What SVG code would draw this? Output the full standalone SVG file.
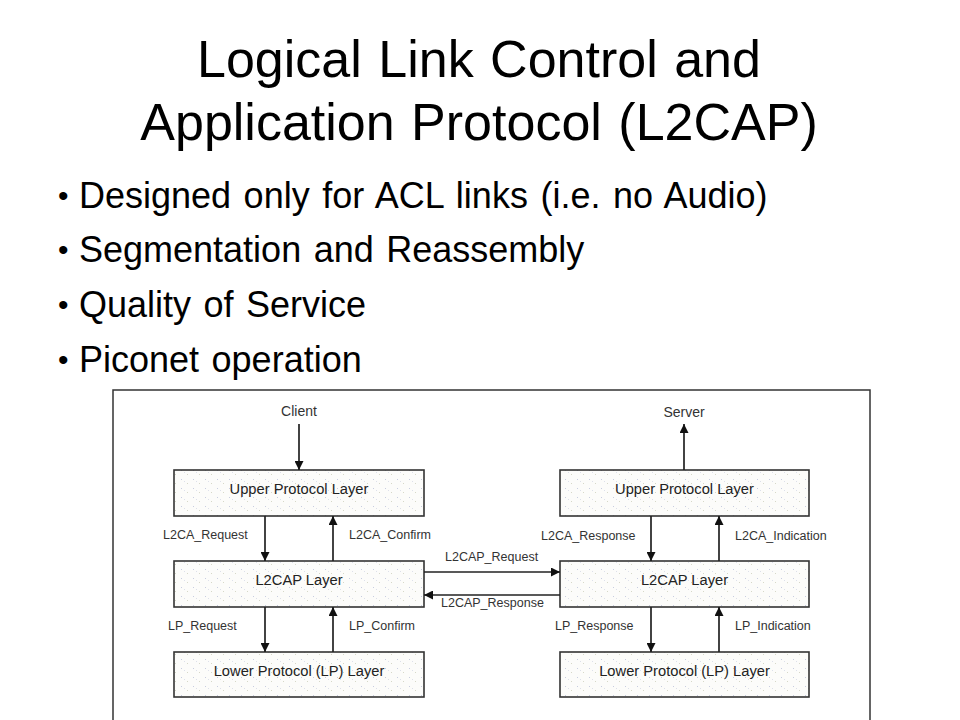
<svg xmlns="http://www.w3.org/2000/svg" width="960" height="720" viewBox="0 0 960 720">
<style>
.title{font-family:"Liberation Sans",Arial,sans-serif;font-size:52px;fill:#000;text-anchor:middle;word-spacing:2px}
.bullet{font-family:"Liberation Sans",Arial,sans-serif;font-size:36px;fill:#000;word-spacing:2.5px}
.dot{font-family:"Liberation Sans",Arial,sans-serif;font-size:30px;fill:#000}
.box{fill:url(#dots);stroke:#333;stroke-width:1.6}
.btxt{font-family:"Liberation Sans",Arial,sans-serif;font-size:14.7px;fill:#222;text-anchor:middle}
.lbl{font-family:"Liberation Sans",Arial,sans-serif;font-size:12.5px;fill:#333}
.end{font-family:"Liberation Sans",Arial,sans-serif;font-size:14px;fill:#333;text-anchor:middle}
.conn{stroke:#222;stroke-width:1.7;fill:none;marker-end:url(#ah)}
</style>
<defs>
<marker id="ah" viewBox="0 0 10 10" refX="10" refY="5" markerWidth="10" markerHeight="9" markerUnits="userSpaceOnUse" orient="auto">
<path d="M0,0 L10,5 L0,10 z" fill="#111"/>
</marker>
<pattern id="dots" width="12" height="9" patternUnits="userSpaceOnUse">
<rect width="12" height="9" fill="#fcfcfa"/>
<rect x="1" y="2" width="1" height="1" fill="#c8cde0"/>
<rect x="7" y="6" width="1" height="1" fill="#d6d8c8"/>
<rect x="4" y="4" width="1" height="1" fill="#dde0ea"/>
</pattern>
</defs>
<rect width="960" height="720" fill="#fff"/>
<g id="title">
<text class="title" x="479" y="77">Logical Link Control and</text>
<text class="title" x="479" y="140">Application Protocol (L2CAP)</text>
</g>
<g id="bullets">
<text class="dot" x="58" y="206">•</text><text class="bullet" x="79" y="208">Designed only for ACL links (i.e. no Audio)</text>
<text class="dot" x="58" y="260">•</text><text class="bullet" x="79" y="262">Segmentation and Reassembly</text>
<text class="dot" x="58" y="315">•</text><text class="bullet" x="79" y="317">Quality of Service</text>
<text class="dot" x="58" y="370">•</text><text class="bullet" x="79" y="372">Piconet operation</text>
</g>
<rect id="frame" x="113" y="390" width="757" height="335" fill="#fff" stroke="#333" stroke-width="1.5"/>
<g id="client"><text class="end" x="299" y="416">Client</text></g>
<g id="server"><text class="end" x="684" y="417">Server</text></g>
<g id="left-upper"><rect class="box" x="174" y="470" width="250" height="46"/><text class="btxt" x="299" y="494">Upper Protocol Layer</text></g>
<g id="left-l2cap"><rect class="box" x="174" y="561" width="250" height="46"/><text class="btxt" x="299" y="585">L2CAP Layer</text></g>
<g id="left-lower"><rect class="box" x="174" y="652" width="250" height="45"/><text class="btxt" x="299" y="676">Lower Protocol (LP) Layer</text></g>
<g id="right-upper"><rect class="box" x="560" y="470" width="249" height="46"/><text class="btxt" x="684.5" y="494">Upper Protocol Layer</text></g>
<g id="right-l2cap"><rect class="box" x="560" y="561" width="249" height="46"/><text class="btxt" x="684.5" y="585">L2CAP Layer</text></g>
<g id="right-lower"><rect class="box" x="560" y="652" width="249" height="45"/><text class="btxt" x="684.5" y="676">Lower Protocol (LP) Layer</text></g>
<g id="connectors">
<line class="conn" x1="299" y1="424" x2="299" y2="470"/>
<line class="conn" x1="265" y1="516" x2="265" y2="561"/>
<line class="conn" x1="333" y1="561" x2="333" y2="516"/>
<line class="conn" x1="265" y1="607" x2="265" y2="652"/>
<line class="conn" x1="333" y1="652" x2="333" y2="607"/>
<line class="conn" x1="424" y1="572" x2="560" y2="572"/>
<line class="conn" x1="560" y1="595" x2="424" y2="595"/>
<line class="conn" x1="684" y1="470" x2="684" y2="424"/>
<line class="conn" x1="651" y1="516" x2="651" y2="561"/>
<line class="conn" x1="719" y1="561" x2="719" y2="516"/>
<line class="conn" x1="651" y1="607" x2="651" y2="652"/>
<line class="conn" x1="719" y1="652" x2="719" y2="607"/>
<text class="lbl" x="163" y="539">L2CA_Request</text>
<text class="lbl" x="349" y="539">L2CA_Confirm</text>
<text class="lbl" x="168" y="630">LP_Request</text>
<text class="lbl" x="349" y="630">LP_Confirm</text>
<text class="lbl" x="445" y="561">L2CAP_Request</text>
<text class="lbl" x="441" y="607">L2CAP_Response</text>
<text class="lbl" x="541" y="540">L2CA_Response</text>
<text class="lbl" x="735" y="540">L2CA_Indication</text>
<text class="lbl" x="555" y="630">LP_Response</text>
<text class="lbl" x="735" y="630">LP_Indication</text>
</g>
</svg>
